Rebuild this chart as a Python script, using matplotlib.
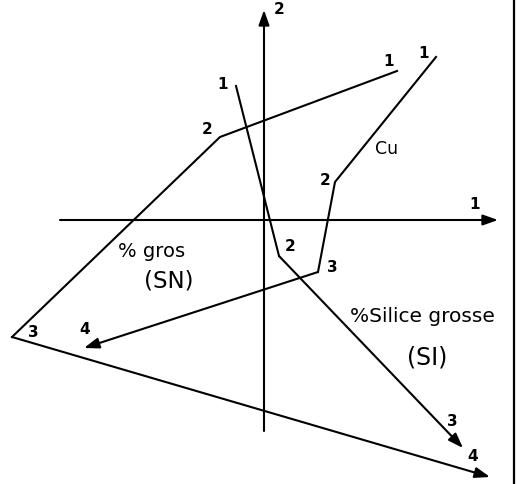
import matplotlib
matplotlib.use("Agg")
import matplotlib.pyplot as plt

# coordonnées des variables sur les axes factoriels 1 et 2 (points successifs 1..4)
gros_f1 = [1.33, -0.44, -2.52, 2.26]
gros_f2 = [1.49, 0.83, -1.17, -2.57]
silice_f1 = [-0.28, 0.15, 1.99]
silice_f2 = [1.34, -0.36, -2.28]
cu_f1 = [1.72, 0.71, 0.54, -1.80]
cu_f2 = [1.63, 0.38, -0.52, -1.28]
point_labels = ["1", "2", "3", "4"]

fig = plt.figure(figsize=(5.21, 4.84), dpi=100)
ax = fig.add_axes([0, 0, 1, 1])
ax.set_xlim(-2.64, 2.57)
ax.set_ylim(-2.64, 2.20)
ax.axis("off")

lw = 1.5
arrow = dict(arrowstyle="-|>,head_length=0.9,head_width=0.32", color="black",
             lw=lw, mutation_scale=10, shrinkA=0, shrinkB=0)

# axes factoriels
ax.annotate("", xy=(2.34, 0), xytext=(-2.04, 0), arrowprops=arrow)
ax.annotate("", xy=(0, 2.10), xytext=(0, -2.11), arrowprops=arrow)
ax.text(2.11, 0.15, "1", fontsize=11, fontweight="bold", ha="center", va="center")
ax.text(0.15, 2.10, "2", fontsize=11, fontweight="bold", ha="center", va="center")


def trajet(xs, ys, offsets):
    # ligne brisée, flèche sur le dernier segment
    ax.plot(xs[:-1], ys[:-1], color="black", lw=lw, solid_joinstyle="miter")
    ax.annotate("", xy=(xs[-1], ys[-1]), xytext=(xs[-2], ys[-2]), arrowprops=arrow)
    for i, (dx, dy) in enumerate(offsets):
        ax.text(xs[i] + dx, ys[i] + dy, point_labels[i], fontsize=11,
                fontweight="bold", ha="center", va="center")


trajet(gros_f1, gros_f2, [(-0.08, 0.09), (-0.13, 0.07), (0.21, 0.04), (-0.17, 0.20)])
trajet(silice_f1, silice_f2, [(-0.13, 0.01), (0.11, 0.09), (-0.11, 0.26)])
trajet(cu_f1, cu_f2, [(-0.12, 0.03), (-0.10, 0.01), (0.14, 0.04), (0.01, 0.18)])

# trait de cadre à droite
ax.plot([2.50, 2.50], [2.20, -2.64], color="black", lw=1.6)

ax.text(1.23, 0.71, "Cu", fontsize=12.5, ha="center", va="center")
ax.text(-1.12, -0.32, "% gros", fontsize=14, ha="center", va="center")
ax.text(-0.95, -0.61, "(SN)", fontsize=16.5, ha="center", va="center")
ax.text(1.58, -0.97, "%Silice grosse", fontsize=14.5, ha="center", va="center")
ax.text(1.63, -1.38, "(SI)", fontsize=17, ha="center", va="center")

fig.savefig("out.png", dpi=100)
